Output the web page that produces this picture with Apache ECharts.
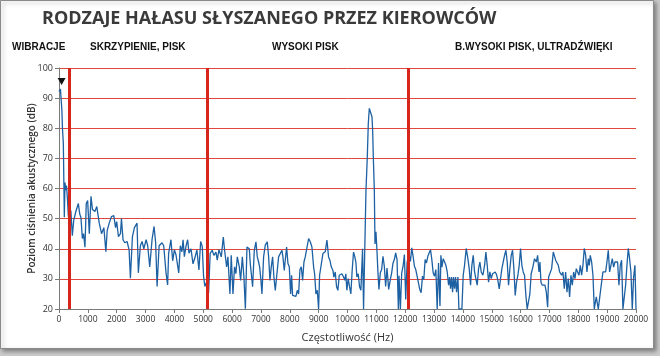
<!DOCTYPE html>
<html>
<head>
<meta charset="utf-8">
<script src="https://cdn.jsdelivr.net/npm/echarts@6/dist/echarts.min.js"></script>
<style>
html,body{margin:0;padding:0;background:#c9c9c9;}
#c{width:660px;height:356px;}
</style>
</head>
<body>
<div id="c"></div>
<script>
// ---- DATA ----
const chartTitle = 'RODZAJE HAŁASU SŁYSZANEGO PRZEZ KIEROWCÓW';
const regionLabels = ['WIBRACJE', 'SKRZYPIENIE, PISK', 'WYSOKI PISK', 'B.WYSOKI PISK, ULTRADŹWIĘKI'];
const regionBounds = [370, 5150, 12100]; // Hz
const xName = 'Częstotliwość (Hz)';
const yName = 'Poziom ciśnienia akustycznego (dB)';
const peakMarker = [90, 95.5];

const freqA = [0,50,80,100,120,150,185,208,230,260,290,323,370,410,462,510,580,670,720,760,810,850,900,945,993,1050,1110,1160,1245,1310,1395,1475,1555,1625,1670,1740,1820,1900,1960,2000,2060,2130,2165,2220,2280,2360,2430,2475,2545,2615,2705,2750,2820,2880,2940,3020,3075,3145,3225,3295,3350,3400,3470,3570,3630,3710,3765,3800,3880,3940,4000,4055,4150,4205,4260,4300,4345,4400,4460,4505,4575,4645,4710,4780,4850,4910,4965,5010,5055,5100,5185,5240];
const dbA   = [92.2,93,93.4,86,80,75,50.5,62,59.5,61,57,51,48.3,52.7,44.3,49.4,52.2,55,51.5,50.4,43.4,45,40.5,55,56,45,57.4,53,52.4,54,48.5,45,47,39,46,48.5,50.7,51,47,49,44,45,50,43,42,42.4,39.6,30.2,44,47,48.5,32,41,42.4,40,43,41,34,43,47.4,42,27.5,41,42,41,32,28,38.5,43,36,39.6,38,32,41,39,43,37.4,40.8,43,38.5,40,35,37,39.6,33,42.4,40.8,31,27.5,28.6,25.3,38.5];

const freqB = [5310,5370,5440,5485,5545,5625,5695,5740,5810,5855,5925,5970,6030,6085,6130,6180,6250,6295,6355,6410,6460];
const dbB   = [39.5,37.8,38.9,36.2,39.7,37.3,43.9,39.5,34,37.3,25,37.8,25,34,31.7,37.3,34,29.5,37.3,30.6,20.1];

const freqC = [6515,6596,6630,6665,6711,6769,6827,6873,6919,6954,7000,7035,7092,7150,7219,7266,7312,7358,7404,7450,7497,7554,7612,7670,7728,7762,7808,7843,7889,7936,7982,8028,8063,8097,8155,8213,8259,8305,8351,8398,8444,8490,8536,8594,8652,8709,8767,8825,8860,8906,8952,8998,9033,9090,9148,9229,9287,9344,9390,9437,9495,9529,9575,9621,9667,9714,9760,9806,9864];
const dbC   = [40.6,40,35.1,31.8,27.4,39.5,42.3,37.3,35.6,34,29.5,25,37.3,41.2,42.3,37.3,29.5,34,37.3,30.6,26.2,31.7,37.3,37.8,39.5,37.3,32.8,36.2,40.6,35.1,34,25,31.2,24.5,24.5,24.2,26.2,25,33,34,29.5,35.6,37.3,37.3,43.4,42.3,40.6,34,31.7,25,26.2,20,31.2,31.7,38.4,39,42.9,37.3,36.2,34,32.8,30.6,32.3,27.4,26.2,31.2,30.6,31.7,30.6];

const freqD = [9907,9942,9977,10023,10070,10116,10162,10209,10255,10290,10325,10371,10418,10464,10522,10557,10603,10640,10686,10721,10756,10780,10802,10849,10872,10895,10930,10953,10986,11021,11056,11090,11137,11183,11230,11276,11322,11369,11427,11485,11531,11578,11624,11670,11717,11763,11786,11833,11879,11926,11972,12018,12065,12123,12181,12227,12274,12320,12366,12413,12459,12505,12552,12598,12645,12691,12737,12784,12830,12877,12923,12970,13016,13062,13109,13155,13205];
const dbD   = [29.5,31.7,26.2,30.1,27.4,25,32.8,38.9,37.3,35.6,30.6,31.7,27.4,26.2,40,20,20,59.3,70.4,81.6,86.6,87.1,86.6,83.8,79.3,70.4,59.3,41.6,45.6,39.5,32,26.5,32,33.1,37.5,34.2,27.5,33.6,26.5,29.8,32,35.3,36.4,38.6,36.4,20,31,20,32,34.2,38.1,23.2,35.3,38.6,35.8,40.3,37.5,34.2,33.1,30.9,28.7,26.5,25.4,30.9,29.8,36.4,35.3,37.5,38.6,39.7,36.4,32,30.9,33.1,20,35.3,21];

const freqE = [13237,13272,13318,13365,13411,13457,13503,13538,13572,13607,13642,13676,13711,13746,13780,13827,13861,13919,13965,14011,14057,14115,14173,14219,14265,14311,14358,14404,14450,14496,14543,14589,14635,14693,14751,14797,14843,14889,14935,14981,15028,15074,15120,15166,15213,15259,15305,15351,15397,15444,15490,15536,15582,15628,15675,15721,15767,15813,15859,15906,15952,15998,16044,16090,16137,16183,16229,16275,16321,16367,16425,16483];
const dbE   = [37.8,33.9,36.7,36.2,34.5,32.3,27.9,30.6,26.7,30.6,25.6,30.6,26.7,30.6,25.6,30.6,20,20,20,31.2,34.5,40.1,36.7,33.4,27.9,34.5,37.8,32.3,30.1,27.9,33.4,35.6,32.3,31.2,34.5,38.9,34.5,28.9,32.3,30.1,31.7,31.2,32.3,31.4,29.5,26.7,30.1,33.4,35.6,37.8,39.5,35.6,27.9,33.4,37.8,39.5,33.4,24.5,28.9,31.2,34.5,40.1,34.5,32.3,31.2,24.5,20,20,25,31.7,33.9,36.7];

const freqF = [16544,16590,16637,16671,16706,16752,16798,16845,16891,16937,16972,17018,17076,17133,17168,17214,17260,17307,17353,17387,17422,17468,17514,17561,17607,17653,17699,17745,17792,17838,17884,17930,17976,18023,18069,18115,18161,18207,18254,18300,18346,18381,18415,18462,18508,18554,18623,18693,18762,18808,18854,18900,18947,18993,19039,19085,19131,19178,19224,19270,19316,19362,19409,19455,19501,19547,19593,19640,19686,19732,19778,19824,19871,19917,19963,20000];
const dbF   = [35.6,37.8,32.3,35.6,28.9,27.9,27.9,27.9,25.6,20.6,30.6,30.6,33.4,38.9,37.8,36.2,35.6,34.5,32.3,32.8,31.2,32.3,26.7,32.3,25.6,30.1,24,31.2,27.9,32.3,30.1,33.4,32.3,31.2,34.5,31.2,34.5,40.1,37.8,32.3,36.7,34.5,37.8,35.6,31.2,20,24,20,20,28.9,32.3,32.3,32.3,35.6,39.5,32.3,34.5,36.7,33.9,35.6,36.2,35.6,27.9,34.5,36.2,20,20,27.9,34.5,40.1,36.7,32.3,20,30.6,34.5,20];

// ---- BUILD ----
const freqs = [].concat(freqA, freqB, freqC, freqD, freqE, freqF);
const dbs = [].concat(dbA, dbB, dbC, dbD, dbE, dbF);
const lineData = freqs.map((f, i) => [f, dbs[i]]);

const chart = echarts.init(document.getElementById('c'), null, {renderer: 'canvas'});
const labelFont = '"Liberation Sans", Arial, sans-serif';
const bodyFont = '"Open Sans", "DejaVu Sans", sans-serif';
const regionX = [12, 90, 272, 455];

chart.setOption({
  animation: false,
  backgroundColor: 'transparent',
  graphic: [
    {type: 'rect', z: -10, shape: {x: 0.5, y: 0.5, width: 653, height: 348},
     style: {fill: '#ffffff', stroke: '#8a8a8a', lineWidth: 1, shadowBlur: 4, shadowColor: 'rgba(0,0,0,0.35)', shadowOffsetX: 2, shadowOffsetY: 2}},
    {type: 'text', left: 42, top: 10, style: {text: chartTitle, fill: '#3a3a3a', font: 'bold 18px ' + bodyFont}}
  ].concat(regionLabels.map((t, i) => ({
    type: 'text', left: regionX[i], top: 42,
    style: {text: t, fill: '#111', font: 'bold 10px ' + labelFont}
  }))),
  grid: {left: 59, right: 24, top: 68, bottom: 47, containLabel: false},
  xAxis: {
    type: 'value', min: 0, max: 20000, interval: 1000,
    name: xName, nameLocation: 'middle', nameGap: 23,
    nameTextStyle: {fontFamily: bodyFont, fontSize: 11, color: '#333'},
    axisLine: {show: true, lineStyle: {color: '#7a7a7a', width: 1}},
    axisTick: {show: true, length: 4, lineStyle: {color: '#7a7a7a'}},
    axisLabel: {fontFamily: bodyFont, fontSize: 8.5, color: '#333', margin: 6, formatter: v => String(v)},
    splitLine: {show: false}
  },
  yAxis: {
    type: 'value', min: 20, max: 100, interval: 10,
    name: yName, nameLocation: 'middle', nameGap: 22, nameMoveOverlap: false,
    nameTextStyle: {fontFamily: bodyFont, fontSize: 10, fontWeight: 600, color: '#333'},
    axisLine: {show: true, lineStyle: {color: '#7a7a7a', width: 1}},
    axisTick: {show: true, length: 4, lineStyle: {color: '#7a7a7a'}},
    axisLabel: {fontFamily: bodyFont, fontSize: 9, color: '#333', margin: 6},
    splitLine: {show: true, lineStyle: {color: '#e0483e', width: 1}}
  },
  series: [{
    type: 'line',
    data: lineData,
    showSymbol: false,
    symbol: 'none',
    lineStyle: {color: '#1d61a3', width: 1.3},
    z: 3,
    markLine: {
      silent: true, symbol: ['none', 'none'], animation: false,
      label: {show: false},
      lineStyle: {color: '#d6261c', width: 3, type: 'solid'},
      data: regionBounds.map(v => ({xAxis: v})),
      z: 4
    },
    markPoint: {
      silent: true, animation: false,
      symbol: 'triangle', symbolRotate: 180, symbolSize: [8, 7],
      itemStyle: {color: '#111'},
      label: {show: false},
      data: [{coord: peakMarker}]
    }
  }]
});
</script>
</body>
</html>
